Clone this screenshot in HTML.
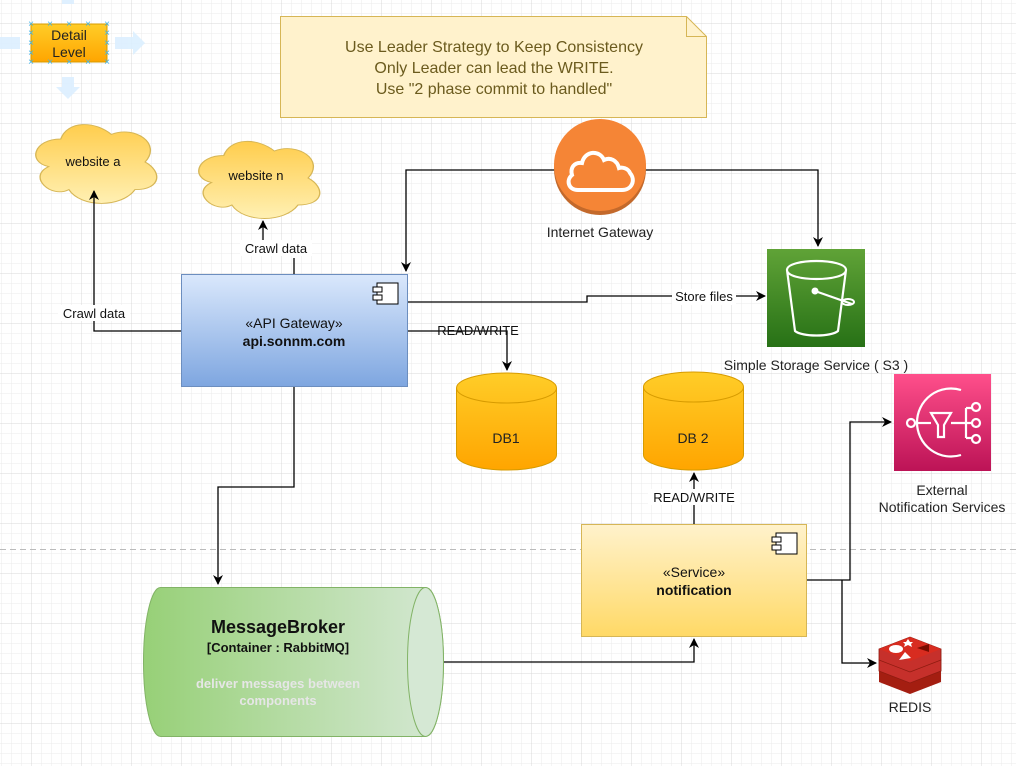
<!DOCTYPE html>
<html><head><meta charset="utf-8"><style>
html,body{margin:0;padding:0;background:#fff;}
svg{display:block;font-family:"Liberation Sans",Arial,sans-serif;}
</style></head><body>
<svg width="1016" height="766" viewBox="0 0 1016 766" xmlns="http://www.w3.org/2000/svg">
<defs>
<pattern id="minor" x="2" y="4" width="10" height="10" patternUnits="userSpaceOnUse"><path d="M10 0V10M0 10H10" fill="none" stroke="#ebebeb" stroke-width="1"/></pattern>
<pattern id="major" x="-18" y="-26" width="50" height="50" patternUnits="userSpaceOnUse"><path d="M50 0V50M0 50H50" fill="none" stroke="#d8d8d8" stroke-width="1"/></pattern>
<linearGradient id="gOr" x1="0" y1="0" x2="0" y2="1"><stop offset="0" stop-color="#ffcd28"/><stop offset="1" stop-color="#ffa500"/></linearGradient>
<linearGradient id="gCloud" x1="0" y1="0" x2="0" y2="1"><stop offset="0" stop-color="#ffcd4d"/><stop offset="1" stop-color="#fff0b3"/></linearGradient>
<linearGradient id="gBlue" x1="0" y1="0" x2="0" y2="1"><stop offset="0" stop-color="#dae8fc"/><stop offset="1" stop-color="#7ea6e0"/></linearGradient>
<linearGradient id="gYel" x1="0" y1="0" x2="0" y2="1"><stop offset="0" stop-color="#fff2cc"/><stop offset="1" stop-color="#ffd966"/></linearGradient>
<linearGradient id="gGreen" x1="0" y1="0" x2="1" y2="0"><stop offset="0" stop-color="#97d077"/><stop offset="1" stop-color="#d5e8d4"/></linearGradient>
<linearGradient id="gS3" x1="0" y1="0" x2="0" y2="1"><stop offset="0" stop-color="#60a337"/><stop offset="1" stop-color="#277116"/></linearGradient>
<linearGradient id="gSNS" x1="0" y1="0" x2="0" y2="1"><stop offset="0" stop-color="#ff4f8b"/><stop offset="1" stop-color="#bc1356"/></linearGradient>
<marker id="ar" viewBox="0 0 10 10" refX="9" refY="5" markerWidth="10" markerHeight="10" orient="auto" markerUnits="userSpaceOnUse"><path d="M0 0L10 5L0 10L3 5Z" fill="#000"/></marker>
<path id="cloudp" d="M25 25C5 25 0 50 16 55C0 66 18 90 31 80C40 100 70 100 80 80C100 80 100 60 87.5 50C100 30 80 10 62.5 20C50 5 30 5 25 25Z"/>
</defs>
<rect width="1016" height="766" fill="url(#minor)"/>
<rect width="1016" height="766" fill="url(#major)"/>

<g fill="#dcefff" opacity="0.9">
<path d="M62 0h12v4h-12z"/>
<path d="M62 77h12v10h6l-12 12l-12-12h6z"/>
<path d="M115 37h18v-6l12 12l-12 12v-6h-18z"/>
<path d="M0 37h20v12h-20z"/>
</g>
<rect x="31" y="24" width="76" height="38" fill="url(#gOr)" stroke="#d79b00"/>
<text x="69" y="40" font-size="14" text-anchor="middle" fill="#222">Detail</text>
<text x="69" y="57" font-size="14" text-anchor="middle" fill="#222">Level</text>
<g fill="#3fb4ec" font-size="10" text-anchor="middle">
<text x="31" y="27">×</text><text x="50" y="27">×</text><text x="69" y="27">×</text><text x="88" y="27">×</text><text x="107" y="27">×</text>
<text x="31" y="46">×</text><text x="107" y="46">×</text><text x="31" y="36">×</text><text x="107" y="36">×</text><text x="31" y="56">×</text><text x="107" y="56">×</text>
<text x="31" y="65">×</text><text x="50" y="65">×</text><text x="69" y="65">×</text><text x="88" y="65">×</text><text x="107" y="65">×</text>
</g>

<path d="M280.5 16.5H686.5L706.5 36.5V117.5H280.5Z" fill="#fff2cc" stroke="#d6b656"/>
<path d="M686.5 16.5V36.5H706.5" fill="none" stroke="#d6b656"/>
<g font-size="16" text-anchor="middle" fill="#6b5b1e">
<text x="494" y="52">Use Leader Strategy to Keep Consistency</text>
<text x="494" y="73">Only Leader can lead the WRITE.</text>
<text x="494" y="94">Use "2 phase commit to handled"</text>
</g>

<line x1="0" y1="549.5" x2="1016" y2="549.5" stroke="#bbb" stroke-dasharray="6 4"/>

<g transform="translate(27,116) scale(1.35,0.92)"><use href="#cloudp" fill="url(#gCloud)" stroke="#d6b656" stroke-width="1" vector-effect="non-scaling-stroke"/></g>
<text x="93" y="166" font-size="13" text-anchor="middle" fill="#111">website a</text>
<g transform="translate(190,133) scale(1.35,0.9)"><use href="#cloudp" fill="url(#gCloud)" stroke="#d6b656" stroke-width="1" vector-effect="non-scaling-stroke"/></g>
<text x="256" y="180" font-size="13" text-anchor="middle" fill="#111">website n</text>

<g fill="none" stroke="#000" stroke-width="1.3">
<path d="M294 274V258"/>
<path d="M263 240V221" marker-end="url(#ar)"/>
<path d="M181 331H94V191" marker-end="url(#ar)"/>
<path d="M555 170H406V271" marker-end="url(#ar)"/>
<path d="M645 170H818V246" marker-end="url(#ar)"/>
<path d="M407 302H587V296H765" marker-end="url(#ar)"/>
<path d="M407 331H507V370" marker-end="url(#ar)"/>
<path d="M294 387V487H218V584" marker-end="url(#ar)"/>
<path d="M444 662H694V639" marker-end="url(#ar)"/>
<path d="M694 524V473" marker-end="url(#ar)"/>
<path d="M806 580H850V422H891" marker-end="url(#ar)"/>
<path d="M842 580V663H876" marker-end="url(#ar)"/>
</g>
<g font-size="13" fill="#111" text-anchor="middle">
<rect x="240" y="240" width="72" height="16" fill="#fff"/>
<text x="276" y="253">Crawl data</text>
<rect x="58" y="305" width="72" height="16" fill="#fff"/>
<text x="94" y="318">Crawl data</text>
<rect x="672" y="289" width="64" height="16" fill="#fff"/>
<text x="704" y="301">Store files</text>
<text x="478" y="335">READ/WRITE</text>
<rect x="648" y="489" width="92" height="16" fill="#fff"/>
<text x="694" y="502">READ/WRITE</text>
</g>

<circle cx="600" cy="169" r="46" fill="#c3692b"/>
<circle cx="600" cy="165" r="46" fill="#f58536"/>
<path d="M578 190H622C632 190 636 180 630 173C628 168 622 167 619 168C617 160 610 157 604 160C600 150 585 150 582 163C574 162 570 168 572 175C566 180 568 190 578 190Z" fill="none" stroke="#fff" stroke-width="4"/>
<text x="600" y="237" font-size="14" text-anchor="middle" fill="#222">Internet Gateway</text>

<rect x="181.5" y="274.5" width="226" height="112" fill="url(#gBlue)" stroke="#6c8ebf"/>
<rect x="377" y="283" width="21" height="21" fill="#fff" stroke="#000"/>
<rect x="373" y="287" width="9" height="5" fill="#fff" stroke="#000"/>
<rect x="373" y="295" width="9" height="5" fill="#fff" stroke="#000"/>
<text x="294" y="328" font-size="14" text-anchor="middle" fill="#111">«API Gateway»</text>
<text x="294" y="346" font-size="14" font-weight="bold" text-anchor="middle" fill="#111">api.sonnm.com</text>

<rect x="767" y="249" width="98" height="98" fill="url(#gS3)"/>
<path d="M787 270C787 258 846 258 846 270C846 282 787 282 787 270ZM787 270L795 331C802 337 831 337 838 331L846 270" fill="none" stroke="#fff" stroke-width="2.2"/>
<circle cx="815" cy="291" r="3.5" fill="#fff"/>
<path d="M815 291L852 304" stroke="#fff" stroke-width="2.2"/>
<ellipse cx="848" cy="302" rx="6" ry="3" fill="none" stroke="#fff" stroke-width="2"/>
<text x="816" y="370" font-size="14" text-anchor="middle" fill="#222">Simple Storage Service ( S3 )</text>

<g stroke="#d79b00" fill="url(#gOr)">
<path d="M456.5 388V455A50 15 0 0 0 556.5 455V388A50 15 0 0 0 456.5 388Z"/>
<path d="M456.5 388A50 15 0 0 0 556.5 388" fill="none"/>
<path d="M643.5 387V455A50 15 0 0 0 743.5 455V387A50 15 0 0 0 643.5 387Z"/>
<path d="M643.5 387A50 15 0 0 0 743.5 387" fill="none"/>
</g>
<text x="506" y="443" font-size="14" text-anchor="middle" fill="#222">DB1</text>
<text x="693" y="443" font-size="14" text-anchor="middle" fill="#222">DB 2</text>

<rect x="894" y="374" width="97" height="97" fill="url(#gSNS)"/>
<g fill="none" stroke="#fff" stroke-width="2.2">
<path d="M961 390A34 34 0 1 0 961 455"/>
<path d="M916 423H931"/>
<path d="M931 413H951L944 425V437H938V425Z"/>
<path d="M951 423H966M966 408V438M966 408H972M966 423H972M966 438H972"/>
<circle cx="911" cy="423" r="4"/><circle cx="976" cy="407" r="4"/><circle cx="976" cy="423" r="4"/><circle cx="976" cy="439" r="4"/>
</g>
<text x="942" y="495" font-size="14" text-anchor="middle" fill="#222">External</text>
<text x="942" y="512" font-size="14" text-anchor="middle" fill="#222">Notification Services</text>

<rect x="581.5" y="524.5" width="225" height="112" fill="url(#gYel)" stroke="#d6b656"/>
<rect x="776" y="533" width="21" height="21" fill="#fff" stroke="#000"/>
<rect x="772" y="537" width="9" height="5" fill="#fff" stroke="#000"/>
<rect x="772" y="545" width="9" height="5" fill="#fff" stroke="#000"/>
<text x="694" y="577" font-size="14" text-anchor="middle" fill="#111">«Service»</text>
<text x="694" y="595" font-size="14" font-weight="bold" text-anchor="middle" fill="#111">notification</text>

<g>
<path d="M879 671L910 659L941 671V682L910 694L879 682Z" fill="#a41e11"/>
<path d="M879 660L910 648L941 660V671L910 683L879 671Z" fill="#c6302b" stroke="#8e1b10" stroke-width="0.8"/>
<path d="M879 649L910 637L941 649V660L910 672L879 660Z" fill="#c6302b" stroke="#8e1b10" stroke-width="0.8"/>
<path d="M879 649L910 637L941 649L910 661Z" fill="#d82c20"/>
<ellipse cx="896" cy="649" rx="7" ry="4" fill="#fff"/>
<path d="M906 642l2-3l2 3l3 0l-2 2l1 3l-4-2l-4 2l1-3l-2-2z" fill="#fff"/>
<path d="M917 648l12 -4l0 8z" fill="#7a0c00"/>
<path d="M899 660l6-8l6 6z" fill="#fff"/>
</g>
<text x="910" y="712" font-size="14" text-anchor="middle" fill="#222">REDIS</text>

<path d="M160.5 587.5H425.5A18 74.5 0 0 1 425.5 736.5H160.5A17 74.5 0 0 1 160.5 587.5Z" fill="url(#gGreen)" stroke="#82b366"/>
<ellipse cx="425.5" cy="662" rx="18" ry="74.5" fill="#d5e8d4" stroke="#82b366"/>
<text x="278" y="633" font-size="18" font-weight="bold" text-anchor="middle" fill="#111">MessageBroker</text>
<text x="278" y="652" font-size="13" font-weight="bold" text-anchor="middle" fill="#111">[Container : RabbitMQ]</text>
<text x="278" y="688" font-size="13" font-weight="bold" text-anchor="middle" fill="#e6e6e6">deliver messages between</text>
<text x="278" y="705" font-size="13" font-weight="bold" text-anchor="middle" fill="#e6e6e6">components</text>
</svg>
</body></html>
